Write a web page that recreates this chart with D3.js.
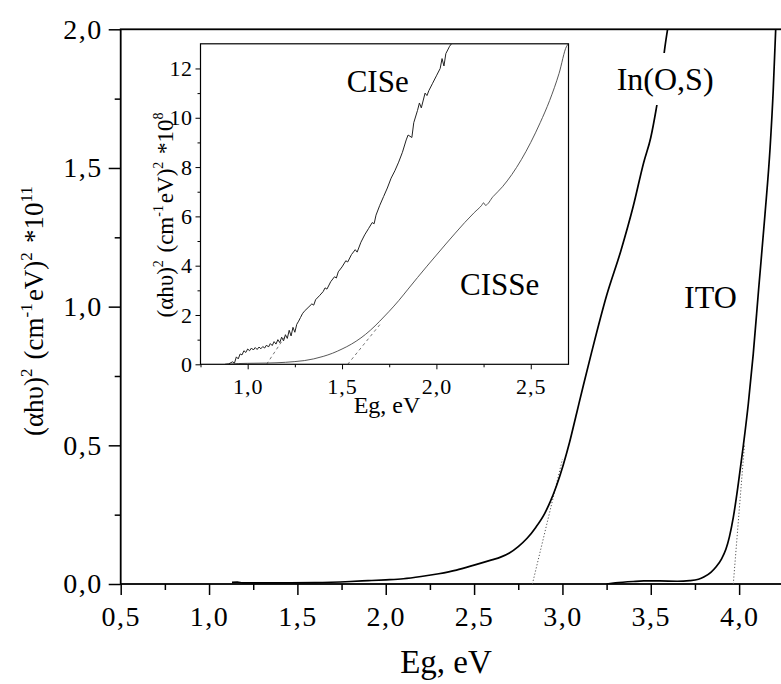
<!DOCTYPE html>
<html>
<head>
<meta charset="utf-8">
<script src="https://cdn.jsdelivr.net/npm/d3@7"></script>
<style>
  html, body { margin: 0; padding: 0; background: #fff; }
  svg { display: block; }
  svg text { font-family: 'Liberation Serif', 'Times New Roman', serif; }
</style>
</head>
<body>
<svg id="chart" width="781" height="684" font-family="Liberation Serif"></svg>
<script>
// ---- Main panel: (αhυ)² vs photon energy, In(O,S) and ITO ----
const mainXTicks = [0.5, 1.0, 1.5, 2.0, 2.5, 3.0, 3.5, 4.0];
const mainYTicks = [0.0, 0.5, 1.0, 1.5, 2.0];

const inosE = [1.13, 1.16, 1.19, 1.25, 1.4, 1.6, 1.8, 1.9, 2.0, 2.1, 2.2, 2.3, 2.4, 2.5, 2.6, 2.65, 2.7, 2.75, 2.8, 2.85, 2.9, 2.93, 2.967, 3.005, 3.04, 3.08, 3.12, 3.165, 3.25, 3.33, 3.40, 3.46, 3.50, 3.53, 3.56, 3.58, 3.595];
const inosV = [0.006, 0.007, 0.004, 0.004, 0.004, 0.005, 0.009, 0.012, 0.015, 0.019, 0.027, 0.037, 0.050, 0.068, 0.087, 0.097, 0.112, 0.135, 0.165, 0.205, 0.255, 0.295, 0.355, 0.430, 0.510, 0.615, 0.720, 0.835, 1.040, 1.200, 1.360, 1.520, 1.610, 1.710, 1.830, 1.936, 2.0];

const itoE = [3.25, 3.3, 3.4, 3.46, 3.55, 3.65, 3.72, 3.77, 3.80, 3.84, 3.87, 3.90, 3.925, 3.945, 3.967, 3.995, 4.024, 4.052, 4.08, 4.11, 4.146, 4.175, 4.193, 4.207];
const itoV = [0.0, 0.004, 0.009, 0.011, 0.011, 0.010, 0.012, 0.017, 0.025, 0.042, 0.062, 0.090, 0.125, 0.170, 0.240, 0.360, 0.500, 0.650, 0.830, 1.060, 1.330, 1.570, 1.780, 2.0];

// linear-edge extrapolations (band gap intercepts)
const inosFitE = [2.83, 3.0];
const inosFitV = [0.0, 0.45];
const itoFitE = [3.967, 4.03];
const itoFitV = [0.0, 0.5];

// ---- Inset: CISe and CISSe absorbers ----
const insetXTicks = [1.0, 1.5, 2.0, 2.5];
const insetYTicks = [0, 2, 4, 6, 8, 10, 12];

const ciseE = [0.88, 0.90, 0.92, 0.93, 0.94, 0.95, 0.96, 0.97, 0.98, 0.99, 1.00, 1.01, 1.02, 1.03, 1.04, 1.05, 1.06, 1.07, 1.08, 1.09, 1.10, 1.11, 1.12, 1.13, 1.14, 1.15, 1.16, 1.17, 1.18, 1.19, 1.20, 1.21, 1.22, 1.23, 1.24, 1.25, 1.26, 1.27, 1.28, 1.29, 1.30, 1.32, 1.34, 1.35, 1.36, 1.38, 1.40, 1.41, 1.42, 1.44, 1.46, 1.47, 1.48, 1.50, 1.52, 1.53, 1.55, 1.57, 1.58, 1.60, 1.62, 1.64, 1.66, 1.67, 1.68, 1.70, 1.72, 1.74, 1.76, 1.78, 1.80, 1.82, 1.84, 1.85, 1.86, 1.87, 1.88, 1.90, 1.91, 1.92, 1.94, 1.95, 1.96, 1.98, 2.00, 2.02, 2.03, 2.04, 2.05, 2.07, 2.08];
const ciseV = [0.00, 0.02, 0.10, 0.05, 0.30, 0.22, 0.42, 0.38, 0.55, 0.48, 0.62, 0.55, 0.66, 0.58, 0.68, 0.60, 0.70, 0.63, 0.72, 0.66, 0.78, 0.70, 0.84, 0.76, 0.92, 0.82, 1.00, 0.88, 1.10, 0.95, 1.20, 1.05, 1.38, 1.15, 1.50, 1.30, 1.62, 1.75, 1.90, 2.05, 2.15, 2.30, 2.45, 2.40, 2.62, 2.78, 2.95, 3.10, 3.05, 3.35, 3.55, 3.50, 3.75, 3.95, 4.20, 4.15, 4.45, 4.65, 4.55, 4.95, 5.25, 5.50, 5.75, 5.70, 6.05, 6.45, 6.80, 7.15, 7.55, 7.85, 8.20, 8.60, 9.10, 9.30, 9.25, 9.20, 9.80, 10.30, 10.60, 10.40, 11.00, 10.90, 11.10, 11.40, 11.70, 12.00, 12.40, 12.10, 12.60, 12.90, 13.00];

const cisseE = [0.90, 0.95, 1.0, 1.1, 1.2, 1.25, 1.3, 1.35, 1.4, 1.45, 1.5, 1.55, 1.6, 1.65, 1.7, 1.75, 1.8, 1.85, 1.9, 1.95, 2.0, 2.05, 2.1, 2.15, 2.2, 2.24, 2.25, 2.26, 2.3, 2.35, 2.4, 2.45, 2.5, 2.55, 2.6, 2.65, 2.69, 2.7];
const cisseV = [0.00, 0.03, 0.04, 0.05, 0.08, 0.11, 0.15, 0.22, 0.32, 0.45, 0.62, 0.82, 1.07, 1.38, 1.75, 2.15, 2.58, 3.05, 3.52, 3.98, 4.43, 4.88, 5.32, 5.75, 6.15, 6.45, 6.55, 6.45, 6.80, 7.20, 7.70, 8.30, 9.00, 9.80, 10.70, 11.80, 12.90, 13.00];

const ciseFitE = [1.10, 1.20];
const ciseFitV = [0.0, 1.15];
const cisseFitE = [1.53, 1.71];
const cisseFitV = [0.0, 1.70];

const SERIF = "'Liberation Serif', 'Times New Roman', serif";
const zip = (a, b) => a.map((v, i) => [v, b[i]]);
const comma = d3.format(".1f");
const fmtComma = d => comma(d).replace(".", ",");

const svg = d3.select("#chart");
const defs = svg.append("defs");

// ---------- main panel ----------
const x = d3.scaleLinear().domain([0.5, 4.25]).range([120.7, 783.3]);
const y = d3.scaleLinear().domain([0, 2]).range([584, 29.3]);

defs.append("clipPath").attr("id", "mainClip")
  .append("rect").attr("x", x(0.5)).attr("y", y(2)).attr("width", x(4.25) - x(0.5)).attr("height", y(0) - y(2));

svg.append("rect")
  .attr("x", x(0.5)).attr("y", y(2))
  .attr("width", x(4.25) - x(0.5)).attr("height", y(0) - y(2))
  .attr("fill", "none").attr("stroke", "#000").attr("stroke-width", 1.8);

const mainG = svg.append("g").attr("clip-path", "url(#mainClip)");
const fitLine = d3.line().x(d => x(d[0])).y(d => y(d[1]));
const dataLine = d3.line().x(d => x(d[0])).y(d => y(d[1])).curve(d3.curveMonotoneX);

[[inosFitE, inosFitV], [itoFitE, itoFitV]].forEach(([e, v]) => {
  mainG.append("path").datum(zip(e, v)).attr("d", fitLine)
    .attr("fill", "none").attr("stroke", "#555").attr("stroke-width", 1).attr("stroke-dasharray", "1.2,2");
});
[[inosE, inosV], [itoE, itoV]].forEach(([e, v]) => {
  mainG.append("path").datum(zip(e, v)).attr("d", dataLine)
    .attr("fill", "none").attr("stroke", "#000").attr("stroke-width", 1.7);
});

function styleAxis(g, w) {
  g.select(".domain").remove();
  g.attr("font-family", null);
  g.selectAll("line").attr("stroke", "#000").attr("stroke-width", w);
}
svg.append("g").attr("transform", `translate(0,${y(0)})`)
  .call(d3.axisBottom(x).tickValues(d3.range(0.75, 4.26, 0.5)).tickSize(6).tickFormat(""))
  .call(styleAxis, 1.5);
const xAx = svg.append("g").attr("transform", `translate(0,${y(0)})`)
  .call(d3.axisBottom(x).tickValues(mainXTicks).tickSize(11).tickFormat(fmtComma))
  .call(styleAxis, 1.5);
xAx.selectAll("text").attr("y", 42).attr("dy", null)
  .attr("font-size", 28).style("letter-spacing", "1.5px");

svg.append("g").attr("transform", `translate(${x(0.5)},0)`)
  .call(d3.axisLeft(y).tickValues(d3.range(0.25, 2, 0.5)).tickSize(6).tickFormat(""))
  .call(styleAxis, 1.5);
const yAx = svg.append("g").attr("transform", `translate(${x(0.5)},0)`)
  .call(d3.axisLeft(y).tickValues(mainYTicks).tickSize(12).tickPadding(6).tickFormat(fmtComma))
  .call(styleAxis, 1.5);
yAx.selectAll("text").attr("font-size", 28).style("letter-spacing", "1.5px");

// text with superscript pieces
function rich(sel, parts, size) {
  const supSize = Math.round(size * 0.62);
  const shift = Math.round(size * 0.42);
  parts.forEach(([s, sup]) => {
    if (sup) {
      sel.append("tspan").attr("font-size", supSize).attr("dy", -shift).text(s);
      sel.append("tspan").attr("font-size", size).attr("dy", shift).text("\u200A");
    } else {
      sel.append("tspan").attr("font-size", size).text(s);
    }
  });
}

const yLab = svg.append("text")
  .attr("transform", "translate(43,310) rotate(-90)")
  .attr("text-anchor", "middle");
rich(yLab, [["(\u03B1h\u03C5)"], ["2", true], [" (cm"], ["-1", true], ["eV)"], ["2", true], [" *10"], ["11", true]], 27);

svg.append("text").attr("x", 446).attr("y", 673).attr("text-anchor", "middle")
  .attr("font-size", 33).text("Eg, eV");

function seriesLabel(txt, px, py, size, pad) {
  const t = svg.append("text").attr("x", px).attr("y", py).attr("font-size", size)
    .style("font-family", SERIF).text(txt);
  if (pad) {
    const b = t.node().getBBox();
    svg.insert("rect", () => t.node())
      .attr("x", b.x - pad[0]).attr("y", b.y - pad[1])
      .attr("width", b.width + 2 * pad[0]).attr("height", b.height + 2 * pad[1])
      .attr("fill", "#fff");
  }
  return t;
}
seriesLabel("In(O,S)", 616.7, 90, 32, [4, 8]);
seriesLabel("ITO", 684, 308, 32);

// ---------- inset ----------
const ix = d3.scaleLinear().domain([0.75, 2.7]).range([200.5, 568.5]);
const iy = d3.scaleLinear().domain([0, 13]).range([364.3, 43.8]);

svg.append("rect")
  .attr("x", ix(0.75)).attr("y", iy(13))
  .attr("width", ix(2.7) - ix(0.75)).attr("height", iy(0) - iy(13))
  .attr("fill", "#fff");

defs.append("clipPath").attr("id", "insetClip")
  .append("rect").attr("x", ix(0.75)).attr("y", iy(13)).attr("width", ix(2.7) - ix(0.75)).attr("height", iy(0) - iy(13));

const iFit = d3.line().x(d => ix(d[0])).y(d => iy(d[1]));
const iSmooth = d3.line().x(d => ix(d[0])).y(d => iy(d[1])).curve(d3.curveMonotoneX);
const inG = svg.append("g").attr("clip-path", "url(#insetClip)");

[[ciseFitE, ciseFitV], [cisseFitE, cisseFitV]].forEach(([e, v]) => {
  inG.append("path").datum(zip(e, v)).attr("d", iFit)
    .attr("fill", "none").attr("stroke", "#666").attr("stroke-width", 0.9).attr("stroke-dasharray", "3,3");
});
inG.append("path").datum(zip(cisseE, cisseV)).attr("d", iSmooth)
  .attr("fill", "none").attr("stroke", "#444").attr("stroke-width", 0.9);
inG.append("path").datum(zip(ciseE, ciseV)).attr("d", iFit)
  .attr("fill", "none").attr("stroke", "#222").attr("stroke-width", 1);

svg.append("rect")
  .attr("x", ix(0.75)).attr("y", iy(13))
  .attr("width", ix(2.7) - ix(0.75)).attr("height", iy(0) - iy(13))
  .attr("fill", "none").attr("stroke", "#000").attr("stroke-width", 1.2);

svg.append("g").attr("transform", `translate(0,${iy(0)})`)
  .call(d3.axisBottom(ix).tickValues([0.75, 1.25, 1.75, 2.25]).tickSize(3).tickFormat(""))
  .call(styleAxis, 1);
const ixAx = svg.append("g").attr("transform", `translate(0,${iy(0)})`)
  .call(d3.axisBottom(ix).tickValues(insetXTicks).tickSize(5).tickFormat(fmtComma))
  .call(styleAxis, 1);
ixAx.selectAll("text").attr("y", 30).attr("dy", null)
  .attr("font-size", 22).style("letter-spacing", "1px");

svg.append("g").attr("transform", `translate(${ix(0.75)},0)`)
  .call(d3.axisLeft(iy).tickValues(d3.range(1, 13, 2)).tickSize(3).tickFormat(""))
  .call(styleAxis, 1);
const iyAx = svg.append("g").attr("transform", `translate(${ix(0.75)},0)`)
  .call(d3.axisLeft(iy).tickValues(insetYTicks).tickSize(5).tickPadding(3).tickFormat(d3.format("d")))
  .call(styleAxis, 1);
iyAx.selectAll("text").attr("font-size", 22).style("letter-spacing", "0.5px");

const iyLab = svg.append("text")
  .attr("transform", "translate(173,214) rotate(-90)")
  .attr("text-anchor", "middle");
rich(iyLab, [["(\u03B1h\u03C5)"], ["2", true], [" (cm"], ["-1", true], ["eV)"], ["2", true], [" *10"], ["8", true]], 23);

svg.append("text").attr("x", 387).attr("y", 413).attr("text-anchor", "middle")
  .attr("font-size", 24).text("Eg, eV");

seriesLabel("CISe", 346.7, 91.7, 31);
seriesLabel("CISSe", 460, 295, 31);

// one serif face for every label
svg.selectAll("text").style("font-family", SERIF).attr("fill", "#000");
</script>
</body>
</html>
